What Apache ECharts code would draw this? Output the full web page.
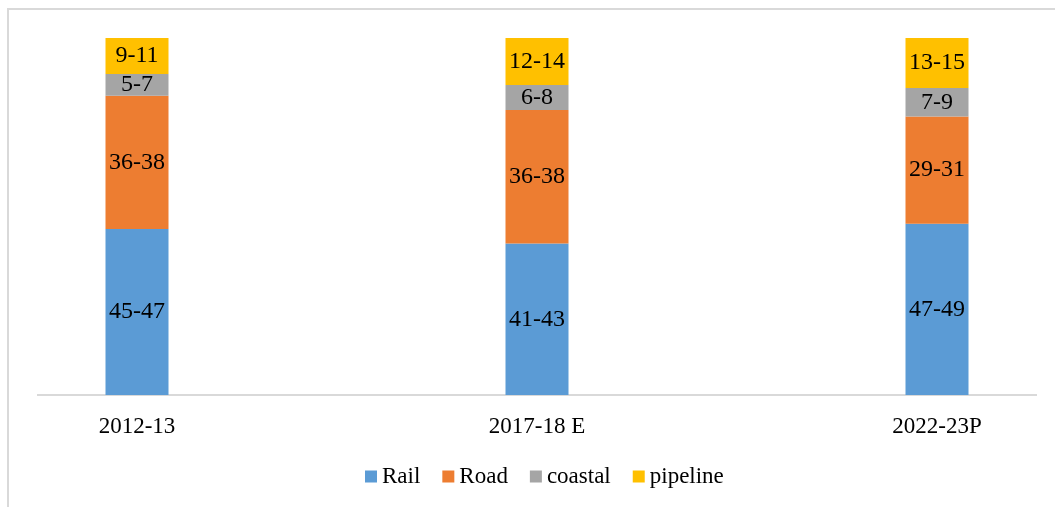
<!DOCTYPE html>
<html>
<head>
<meta charset="utf-8">
<script src="https://cdn.jsdelivr.net/npm/echarts@6/dist/echarts.min.js"></script>
<style>
html,body{margin:0;padding:0;background:#fff;}
#c{width:1055px;height:507px;}
</style>
</head>
<body>
<div id="c"></div>
<script>
const categories = ['2012-13', '2017-18 E', '2022-23P'];
const seriesNames = ['Rail', 'Road', 'coastal', 'pipeline'];
const railRange = ['45-47', '41-43', '47-49'];
const roadRange = ['36-38', '36-38', '29-31'];
const coastalRange = ['5-7', '6-8', '7-9'];
const pipelineRange = ['9-11', '12-14', '13-15'];
const railValues = [46, 42, 48];
const roadValues = [37, 37, 30];
const coastalValues = [6, 7, 8];
const pipelineValues = [10, 13, 14];
const colors = ['#5b9bd5', '#ed7d31', '#a5a5a5', '#ffc000'];

const values = [railValues, roadValues, coastalValues, pipelineValues];
const ranges = [railRange, roadRange, coastalRange, pipelineRange];
const totals = categories.map((_, i) => values.reduce((s, arr) => s + arr[i], 0));

const font = '"Liberation Serif", "Times New Roman", serif';

const chart = echarts.init(document.getElementById('c'), null, {renderer: 'canvas'});
chart.setOption({
  animation: false,
  textStyle: {fontFamily: font},
  graphic: [{
    type: 'rect',
    shape: {x: 8, y: 9, width: 1200, height: 700},
    style: {fill: 'none', stroke: '#d9d9d9', lineWidth: 2},
    silent: true,
    z: -1
  }, {
    type: 'line',
    shape: {x1: 37, y1: 395, x2: 1037, y2: 395},
    style: {stroke: '#d9d9d9', lineWidth: 2},
    silent: true,
    z: 0
  }],
  grid: {left: -63, right: -82, top: 38, bottom: 112, containLabel: false, outerBoundsMode: 'none'},
  legend: {
    top: 460,
    left: 360,
    itemWidth: 12,
    itemHeight: 12,
    itemGap: 22,
    icon: 'rect',
    textStyle: {fontFamily: font, fontSize: 23, color: '#000'},
    data: seriesNames
  },
  xAxis: {
    type: 'category',
    data: categories,
    axisLine: {show: false},
    axisTick: {show: false},
    axisLabel: {fontFamily: font, fontSize: 23, color: '#000', margin: 20}
  },
  yAxis: {
    type: 'value',
    min: 0,
    max: 100,
    show: false,
    splitLine: {show: false}
  },
  series: seriesNames.map((name, s) => ({
    name: name,
    type: 'bar',
    stack: 'total',
    barWidth: 63,
    itemStyle: {color: colors[s]},
    label: {
      show: true,
      position: 'inside',
      fontFamily: font,
      fontSize: 24,
      color: '#000',
      formatter: p => ranges[s][p.dataIndex]
    },
    data: values[s].map((v, i) => v / totals[i] * 100)
  }))
});
</script>
</body>
</html>
